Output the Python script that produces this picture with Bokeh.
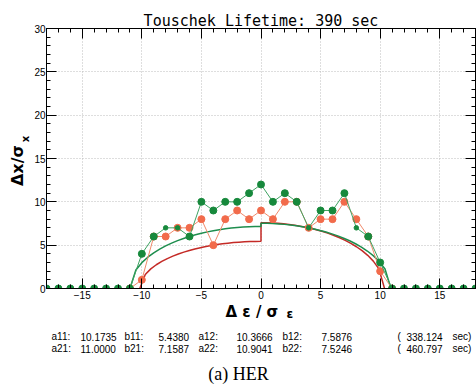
import numpy as np
from bokeh.plotting import figure
from bokeh.layouts import column, row
from bokeh.models import (Range1d, LinearAxis, SingleIntervalTicker, CustomJSTickFormatter)
from bokeh.core.properties import value
from bokeh.embed import file_html
from bokeh.resources import INLINE

# ---------------- data ----------------
de_all = list(range(-18, 19))
dx_green = [0, 0, 0, 0, 0, 0, 0, 0,
            4, 6, 7, 7, 6, 10, 9, 10, 10, 11, 12, 10, 11, 10, 7, 9, 9, 11, 7, 6, 3,
            0, 0, 0, 0, 0, 0, 0, 0]
de_red = list(range(-11, 12))
dx_red = [0, 1, 6, 6, 7, 7, 8, 5, 8, 9, 8, 9, 8, 10, 10, 7, 8, 8, 10, 8, 6, 2, 0]

# fitted half-ellipse parameters (a: half width, b: height), left/right
fit_red = [10.1735, 5.4380, 10.3666, 7.5876]     # a11, b11, a12, b12
fit_green = [11.0000, 7.1587, 10.9041, 7.5246]   # a21, b21, a22, b22
lifetimes = [338.124, 460.797]
title_text = "Touschek Lifetime: 390 sec"
caption = "(a) HER"

GREEN_PT = "#17893c"
GREEN_LN = "#3fa362"
GREEN_CV = "#1e8e4e"
RED_PT = "#f26b4b"
RED_LN = "#f08a6c"
RED_CV = "#c42a26"

W = 476
MID_H = 302       # main plot strip (incl. title)
BOT_H = 84        # bottom text strip
YLAB_W = 31       # y-label strip


def fit_curve(params, n=23):
    aL, bL, aR, bR = params
    xl = np.linspace(-aL, 0.0, n)
    yl = bL * np.sqrt(np.clip(1.0 - (xl / aL) ** 2, 0, None))
    xr = np.linspace(0.0, aR, n)
    yr = bR * np.sqrt(np.clip(1.0 - (xr / aR) ** 2, 0, None))
    return np.concatenate([xl, xr]), np.concatenate([yl, yr])


def text_canvas(w, h):
    f = figure(width=w, height=h, x_range=Range1d(0, w), y_range=Range1d(0, h),
               output_backend="svg", toolbar_location=None,
               x_axis_location=None, y_axis_location=None,
               min_border=0, min_border_left=0, min_border_right=0,
               min_border_top=0, min_border_bottom=0)
    f.outline_line_color = None
    f.grid.visible = False
    f.background_fill_color = "white"
    f.border_fill_color = "white"
    return f


# ---------------- main plot ----------------
p = figure(width=W - YLAB_W, height=MID_H, x_range=Range1d(-18, 18), y_range=Range1d(0, 30),
           output_backend="svg", toolbar_location=None, title=title_text,
           min_border_left=14, min_border_right=1, min_border_top=28, min_border_bottom=14)
p.outline_line_color = "black"
p.background_fill_color = "white"
p.border_fill_color = "white"
p.title.text_font = "DejaVu Sans Mono"
p.title.text_font_size = "15px"
p.title.text_font_style = "normal"
p.title.text_color = "black"
p.title.align = "center"
p.title.standoff = -3

fmt = CustomJSTickFormatter(code="return (tick < 0 ? '\\u2212' : '') + Math.abs(tick);")

for ax in (p.xaxis[0], p.yaxis[0]):
    ax.ticker = SingleIntervalTicker(interval=5, num_minor_ticks=5)
    ax.major_tick_in = 10
    ax.major_tick_out = 0
    ax.minor_tick_in = 4
    ax.minor_tick_out = 0
    ax.axis_line_color = "black"
    ax.major_tick_line_color = "black"
    ax.minor_tick_line_color = "black"
    ax.major_label_text_font = "Liberation Sans"
    ax.major_label_text_font_size = "10px"
    ax.major_label_text_color = "black"
    ax.formatter = fmt
p.xaxis[0].major_label_standoff = 2
p.yaxis[0].major_label_standoff = 1

# tick-only axes on top and right (no labels drawn)
for loc in ("above", "right"):
    ax = LinearAxis(ticker=SingleIntervalTicker(interval=5, num_minor_ticks=5),
                    major_tick_in=10, major_tick_out=0, minor_tick_in=4, minor_tick_out=0,
                    major_label_text_font_size="0px", major_label_standoff=0,
                    major_label_text_color=None, major_label_text_alpha=0,
                    axis_label_standoff=0,
                    axis_line_color="black", major_tick_line_color="black",
                    minor_tick_line_color="black")
    p.add_layout(ax, loc)

p.xgrid.ticker = SingleIntervalTicker(interval=5)
p.ygrid.ticker = SingleIntervalTicker(interval=5)
for g in (p.xgrid[0], p.ygrid[0]):
    g.grid_line_color = "#bdbdbd"
    g.grid_line_dash = "1 2"
    g.grid_line_width = 1

xr_c, yr_c = fit_curve(fit_red)
xg_c, yg_c = fit_curve(fit_green)
p.line(xr_c, yr_c, line_color=RED_CV, line_width=1.5)
p.line(xg_c, yg_c, line_color=GREEN_CV, line_width=1.5)

p.line(de_red, dx_red, line_color=RED_LN, line_width=1)
p.scatter(de_red, dx_red, size=7, fill_color=RED_PT, line_color=RED_PT)
p.line(de_all, dx_green, line_color=GREEN_LN, line_width=1)
g_sizes = [4.5 if v == 7 else 7 for v in dx_green]
p.scatter(de_all, dx_green, size=g_sizes, fill_color=GREEN_PT, line_color=GREEN_PT)

# ---------------- y label strip ----------------
py_ = text_canvas(YLAB_W, MID_H)
y0 = MID_H   # image y of strip bottom
py_.text(x=[17], y=[y0 - 183], text=["\u0394x/\u03c3"], angle=[np.pi / 2],
         text_font=value("DejaVu Sans"), text_font_size=value("16px"),
         text_font_style="bold", text_align="left", text_baseline="middle",
         text_color="black")
py_.text(x=[25], y=[y0 - 132], text=["x"], angle=[np.pi / 2],
         text_font=value("DejaVu Sans"), text_font_size=value("10px"),
         text_font_style="bold", text_align="left", text_baseline="middle",
         text_color="black")

# ---------------- bottom strip ----------------
pb = text_canvas(W, BOT_H)
yb = 386   # image y of strip bottom
pb.text(x=[225], y=[yb - 311], text=["\u0394 \u03b5 / \u03c3"],
        text_font=value("DejaVu Sans"), text_font_size=value("15px"),
        text_font_style="bold", text_align="left", text_baseline="middle",
        text_color="black")
pb.text(x=[286], y=[yb - 313], text=["\u03b5"],
        text_font=value("DejaVu Sans"), text_font_size=value("12px"),
        text_font_style="bold", text_align="left", text_baseline="middle",
        text_color="black")

rows = [
    ["a11:", f"{fit_red[0]:.4f}", "b11:", f"{fit_red[1]:.4f}",
     "a12:", f"{fit_red[2]:.4f}", "b12:", f"{fit_red[3]:.4f}",
     "(", f"{lifetimes[0]:.3f}", "sec)"],
    ["a21:", f"{fit_green[0]:.4f}", "b21:", f"{fit_green[1]:.4f}",
     "a22:", f"{fit_green[2]:.4f}", "b22:", f"{fit_green[3]:.4f}",
     "(", f"{lifetimes[1]:.3f}", "sec)"],
]
col_x = [51, 80, 124, 158, 198, 236, 282, 321, 397, 406, 452]
for r, mid in zip(rows, (336, 348)):
    pb.text(x=col_x, y=[yb - mid] * len(r), text=r,
            text_font=value("Liberation Sans"), text_font_size=value("10px"),
            text_align="left", text_baseline="middle", text_color="black")

pb.text(x=[238], y=[yb - 373], text=[caption], text_font=value("Liberation Serif"),
        text_font_size=value("18px"), text_align="center", text_baseline="middle",
        text_color="black")

layout = column(row(py_, p, spacing=0), pb, spacing=0)
open("out.html", "w").write(file_html(layout, INLINE))
